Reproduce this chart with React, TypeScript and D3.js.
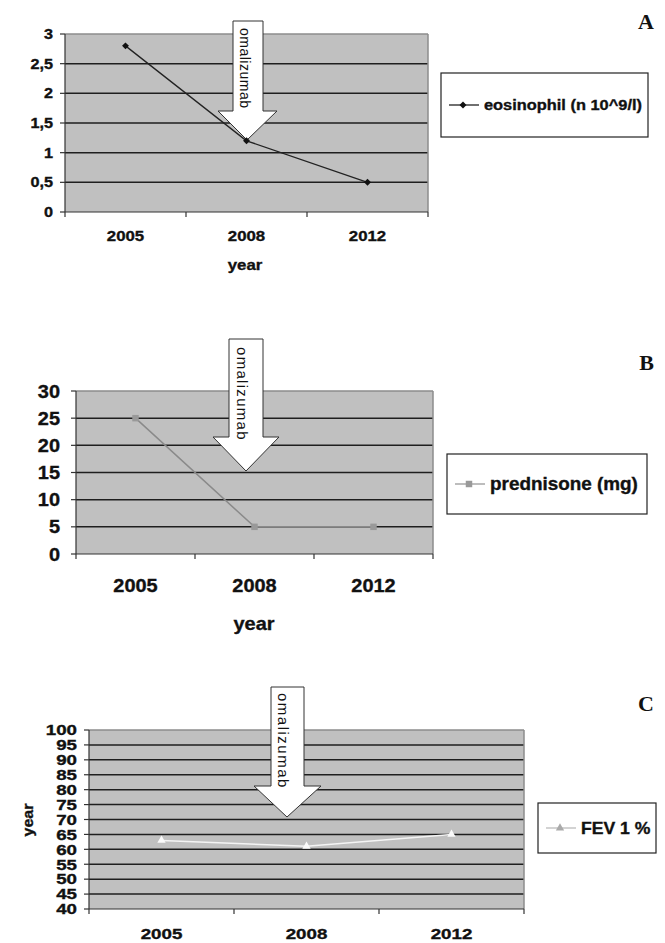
import React from "react";
import * as d3 from "d3";

// categories
const years = ["2005", "2008", "2012"];

// series values
const eosinophil = [2.8, 1.2, 0.5];
const prednisone = [25, 5, 5];
const fev1 = [63, 61, 65];

// value axes
const eosDomain = [0, 3];
const eosStep = 0.5;
const predDomain = [0, 30];
const predStep = 5;
const fevDomain = [40, 100];
const fevStep = 5;

const legendNames = ["eosinophil (n 10^9/l)", "prednisone (mg)", "FEV 1 %"];
const arrowText = "omalizumab";

const locale = d3.formatLocale({ decimal: ",", thousands: ".", grouping: [3], currency: ["", ""] });
const fmt = locale.format("~g");

const SANS = "'Liberation Sans', Arial, sans-serif";

const W = 665,
  H = 943;

function Txt({ x, y, s = 1, fs, anchor = "middle", rotate = 0, children, ...rest }: any) {
  return (
    <text
      transform={`translate(${x},${y}) rotate(${rotate}) scale(${s},1)`}
      textAnchor={anchor}
      dy="0.35em"
      fontFamily={SANS}
      fontWeight="bold"
      fontSize={fs}
      fill="#111"
      stroke="#111"
      strokeWidth={0.35}
      {...rest}
    >
      {children}
    </text>
  );
}

function Arrow({ a, fs, ls }: any) {
  const pts = [
    [a.sl, a.top],
    [a.sr, a.top],
    [a.sr, a.sb],
    [a.hr, a.sb],
    [a.tx, a.ty],
    [a.hl, a.sb],
    [a.sl, a.sb],
  ];
  return (
    <g>
      <polygon points={pts.map((p) => p.join(",")).join(" ")} fill="#fff" stroke="#333" strokeWidth={1} />
      <text
        transform={`translate(${a.textX},${a.textY}) rotate(90)`}
        fontFamily={SANS}
        fontSize={fs}
        letterSpacing={ls}
        fill="#111"
      >
        {arrowText}
      </text>
    </g>
  );
}

function Panel({ cfg }: any) {
  const { left, right, top, bottom, domain, step, values } = cfg;
  const x = d3.scaleBand().domain(years).range([left, right]);
  const y = d3.scaleLinear().domain(domain).range([bottom, top]);
  const ticks = d3.range(domain[0], domain[1] + step / 2, step);
  const line = d3
    .line<number>()
    .x((d, i) => x(years[i])! + x.bandwidth() / 2)
    .y((d) => y(d));
  const sym = d3.symbol(cfg.symbol, cfg.symSize)();
  const edges = [...years.map((d) => x(d)!), right];
  const lg = cfg.legend;

  return (
    <g>
      <rect x={left} y={top} width={right - left} height={bottom - top} fill="#c0c0c0" />
      {ticks
        .filter((t) => t !== domain[0] && t !== domain[1])
        .map((t) => (
          <line key={t} x1={left} x2={right} y1={y(t)} y2={y(t)} stroke="#1e1e1e" strokeWidth={1.5} />
        ))}
      <line x1={left} x2={right} y1={top} y2={top} stroke="#8c8c8c" strokeWidth={1.5} />
      <line x1={right} x2={right} y1={top} y2={bottom} stroke="#8c8c8c" strokeWidth={1.5} />
      <line x1={left} x2={left} y1={top} y2={bottom} stroke="#333" strokeWidth={1.2} />
      <line x1={left} x2={right} y1={bottom} y2={bottom} stroke="#333" strokeWidth={1.2} />
      {ticks.map((t) => (
        <line key={"t" + t} x1={left - 5} x2={left} y1={y(t)} y2={y(t)} stroke="#333" strokeWidth={1.2} />
      ))}
      {edges.map((e, i) => (
        <line key={"e" + i} x1={e} x2={e} y1={bottom} y2={bottom + 5} stroke="#333" strokeWidth={1.2} />
      ))}
      {ticks.map((t) => (
        <Txt key={"l" + t} x={cfg.yLabelX} y={y(t)} s={cfg.ys} fs={cfg.yfs} anchor="end">
          {fmt(t)}
        </Txt>
      ))}
      {years.map((d) => (
        <Txt key={d} x={x(d)! + x.bandwidth() / 2} y={cfg.xLabelY} s={cfg.xs} fs={cfg.xfs}>
          {d}
        </Txt>
      ))}
      <Txt x={cfg.titleX} y={cfg.titleY} s={cfg.ts} fs={cfg.tfs} rotate={cfg.titleRot}>
        year
      </Txt>
      <Arrow a={cfg.arrow} fs={cfg.arrowFs} ls={cfg.arrowLs} />
      <path d={line(values)!} fill="none" stroke={cfg.color} strokeWidth={cfg.lineW} />
      {values.map((v: number, i: number) => (
        <path
          key={i}
          d={sym!}
          transform={`translate(${x(years[i])! + x.bandwidth() / 2},${y(v)}) rotate(${cfg.symRot})`}
          fill={cfg.markColor}
        />
      ))}
      <rect x={lg.x} y={lg.y} width={lg.w} height={lg.h} fill="#fff" stroke="#222" strokeWidth={1.2} />
      <line x1={lg.x + 8} x2={lg.x + 38} y1={lg.y + lg.h / 2} y2={lg.y + lg.h / 2} stroke={lg.lineColor} strokeWidth={1.3} />
      <path d={sym!} transform={`translate(${lg.x + 22},${lg.y + lg.h / 2}) rotate(${cfg.symRot})`} fill={lg.markColor} />
      <Txt x={lg.x + 43} y={lg.y + lg.h / 2} s={lg.s} fs={lg.fs} anchor="start">
        {cfg.name}
      </Txt>
      <text x={654} y={cfg.letterY} textAnchor="end" fontFamily="'Liberation Serif', serif" fontWeight="bold" fontSize={22} fill="#111">
        {cfg.letter}
      </text>
    </g>
  );
}

const panels = [
  {
    letter: "A", letterY: 29, name: legendNames[0],
    values: eosinophil, domain: eosDomain, step: eosStep,
    left: 65, right: 428, top: 34, bottom: 212,
    yLabelX: 53, yfs: 14.5, ys: 1.12,
    xLabelY: 236, xfs: 15, xs: 1.12,
    titleX: 245, titleY: 265, tfs: 15, ts: 1.12, titleRot: 0,
    color: "#222", lineW: 1.3, markColor: "#111",
    symbol: d3.symbolSquare, symSize: 24, symRot: 45,
    arrow: { sl: 233, sr: 263, top: 21, sb: 111, hl: 218, hr: 277, tx: 247, ty: 140, textX: 240, textY: 28 },
    arrowFs: 14, arrowLs: 0.5,
    legend: { x: 441, y: 73, w: 207, h: 64, fs: 14.5, s: 1.13, lineColor: "#222", markColor: "#111" },
  },
  {
    letter: "B", letterY: 370, name: legendNames[1],
    values: prednisone, domain: predDomain, step: predStep,
    left: 76, right: 433, top: 391, bottom: 554,
    yLabelX: 60, yfs: 19, ys: 1.05,
    xLabelY: 585, xfs: 19, xs: 1.05,
    titleX: 254, titleY: 623, tfs: 19, ts: 1.05, titleRot: 0,
    color: "#8a8a8a", lineW: 1.5, markColor: "#999",
    symbol: d3.symbolSquare, symSize: 42, symRot: 0,
    arrow: { sl: 229, sr: 263, top: 339, sb: 437, hl: 213, hr: 279, tx: 246, ty: 471, textX: 237, textY: 347 },
    arrowFs: 15, arrowLs: 1.3,
    legend: { x: 447, y: 454, w: 200, h: 60, fs: 18, s: 1.05, lineColor: "#999", markColor: "#999" },
  },
  {
    letter: "C", letterY: 711, name: legendNames[2],
    values: fev1, domain: fevDomain, step: fevStep,
    left: 89, right: 524, top: 730, bottom: 909,
    yLabelX: 77, yfs: 15, ys: 1.25,
    xLabelY: 934, xfs: 15, xs: 1.25,
    titleX: 28, titleY: 820, tfs: 15, ts: 1.07, titleRot: -90,
    color: "#f4f4f4", lineW: 1.5, markColor: "#fafafa",
    symbol: d3.symbolTriangle, symSize: 30, symRot: 0,
    arrow: { sl: 271, sr: 304, top: 687, sb: 786, hl: 254, hr: 321, tx: 287, ty: 817, textX: 278, textY: 693 },
    arrowFs: 15, arrowLs: 1.5,
    legend: { x: 538, y: 803, w: 118, h: 50, fs: 16, s: 1.1, lineColor: "#bbb", markColor: "#aaa" },
  },
];

export default function App() {
  return (
    <svg width={W} height={H} style={{ position: "absolute", left: 0, top: 0, background: "#fff" }}>
      {panels.map((p) => (
        <Panel key={p.letter} cfg={p} />
      ))}
    </svg>
  );
}
